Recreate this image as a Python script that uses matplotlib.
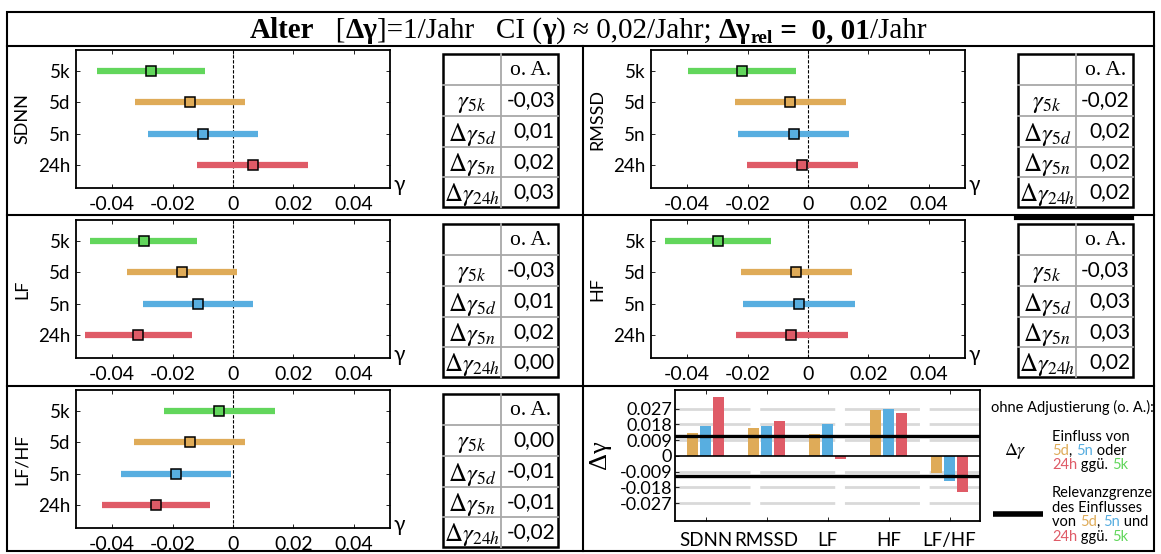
import matplotlib.pyplot as plt
from matplotlib.patches import Rectangle
import numpy as np

plt.rcParams['font.family'] = ['Lato', 'DejaVu Sans']
plt.rcParams['mathtext.fontset'] = 'stix'
SERIF = ['Liberation Serif', 'DejaVu Serif']

W, H = 1161, 554

# --- data: gamma estimates with confidence intervals per recording (5k, 5d, 5n, 24h)
groups = ['5k', '5d', '5n', '24h']
colors = ['#62d65c', '#dfab58', '#58aee0', '#df5b67']
params = ['SDNN', 'RMSSD', 'LF', 'HF', 'LF/HF']

sdnn_mid = [-0.0272, -0.0141, -0.0100, 0.0065]
sdnn_lo = [-0.0450, -0.0323, -0.0282, -0.0118]
sdnn_hi = [-0.0093, 0.0040, 0.0084, 0.0249]

rmssd_mid = [-0.0218, -0.0060, -0.0048, -0.0020]
rmssd_lo = [-0.0399, -0.0243, -0.0233, -0.0202]
rmssd_hi = [-0.0039, 0.0126, 0.0135, 0.0165]

lf_mid = [-0.0296, -0.0170, -0.0115, -0.0313]
lf_lo = [-0.0474, -0.0350, -0.0299, -0.0490]
lf_hi = [-0.0118, 0.0012, 0.0067, -0.0137]

hf_mid = [-0.0299, -0.0039, -0.0029, -0.0055]
hf_lo = [-0.0474, -0.0223, -0.0215, -0.0238]
hf_hi = [-0.0121, 0.0145, 0.0155, 0.0132]

lfhf_mid = [-0.0046, -0.0144, -0.0189, -0.0254]
lfhf_lo = [-0.0230, -0.0327, -0.0372, -0.0434]
lfhf_hi = [0.0138, 0.0039, -0.0007, -0.0076]

rel_limit = 0.0113

row_labels = [r'$\gamma_{5k}$', r'$\Delta\gamma_{5d}$', r'$\Delta\gamma_{5n}$', r'$\Delta\gamma_{24h}$']
bar_ticks = [0.027, 0.018, 0.009, 0, -0.009, -0.018, -0.027]
bar_ticklabels = ['0.027', '0.018', '0.009', '0', '-0.009', '-0.018', '-0.027']

fig = plt.figure(figsize=(W / 100, H / 100), dpi=100)

# background axes in pixel units for frame, tables and free text
bg = fig.add_axes([0, 0, 1, 1])
bg.set_xlim(0, W)
bg.set_ylim(H, 0)
bg.axis('off')
renderer = fig.canvas.get_renderer()


def px_axes(x0, y0, x1, y1):
    return fig.add_axes([x0 / W, 1 - y1 / H, (x1 - x0) / W, (y1 - y0) / H])


def put_pieces(x, y, pieces, center=False, **kw):
    """draw text pieces one after another on a line: (text, dict of extra props, dy)"""
    items = []
    for txt, props, dy in pieces:
        t = bg.text(0, y + dy, txt, va='baseline', ha='left', **{**kw, **props})
        w = t.get_window_extent(renderer).width
        items.append((t, w))
    total = sum(w for _, w in items)
    cx = x - total / 2 if center else x
    for t, w in items:
        t.set_x(cx)
        cx += w


def fmt(v):
    return f"{round(v, 2) + 0.0:.2f}".replace('.', ',')


def forest(x0, y0, name, lo, mid, hi):
    ax = px_axes(x0, y0, x0 + 314, y0 + 138)
    ypos = np.arange(1, 5)
    for i in range(4):
        ax.plot([lo[i], hi[i]], [ypos[i], ypos[i]], color=colors[i], lw=4.5,
                solid_capstyle='butt', zorder=2)
        ax.plot(mid[i], ypos[i], 's', mfc=colors[i], mec='black', ms=7, mew=1.1, zorder=3)
    ax.axvline(0, color='black', lw=0.8, dashes=(3, 1.5), zorder=1)
    ax.set_xlim(-0.052, 0.052)
    ax.set_ylim(4.74, 0.32)
    ax.set_yticks(ypos, groups)
    ax.set_xticks([-0.04, -0.02, 0, 0.02, 0.04], ['-0.04', '-0.02', '0', '0.02', '0.04'])
    ax.tick_params(direction='in', top=True, right=True, length=3, width=0.6,
                   labelsize=13.5, pad=4)
    ax.tick_params(axis='x', labelsize=14, pad=6)
    for s in ax.spines.values():
        s.set_linewidth(1.3)
    ax.text(1.012, 0.02, 'γ', transform=ax.transAxes, ha='left', va='center', fontsize=15)
    bg.text(x0 - 54, y0 + 69, name, rotation=90, ha='center', va='center', fontsize=13)


def table(x0, y0, mid):
    xs = [x0, x0 + 58, x0 + 115]
    ys = [y0, y0 + 31, y0 + 62, y0 + 93, y0 + 123, y0 + 153]
    for y in ys[1:-1]:
        bg.plot([xs[0], xs[2]], [y, y], color='#a8a8a8', lw=1.3)
    bg.plot([xs[1], xs[1]], [ys[0], ys[-1]], color='#a8a8a8', lw=1.3)
    bg.add_patch(Rectangle((xs[0], ys[0]), xs[2] - xs[0], ys[-1] - ys[0],
                           fill=False, ec='black', lw=1.8))
    bg.text((xs[1] + xs[2]) / 2 + 1, (ys[0] + ys[1]) / 2 + 1, 'o. A.', family=SERIF,
            ha='center', va='center', fontsize=15.5)
    vals = [mid[0]] + [m - mid[0] for m in mid[1:]]
    for i, v in enumerate(vals):
        yc = (ys[i + 1] + ys[i + 2]) / 2
        bg.text((xs[0] + xs[1]) / 2, yc + 3, row_labels[i], ha='center', va='center',
                fontsize=18)
        bg.text(xs[2] - 3, yc, fmt(v), ha='right', va='center', fontsize=15)


# frame
bg.add_patch(Rectangle((7, 12), 1147, 539, fill=False, ec='black', lw=1.5))
bg.plot([7, 1154], [46, 46], color='black', lw=1.5)
bg.plot([7, 1154], [215, 215], color='black', lw=1.5)
bg.plot([7, 1154], [385.5, 385.5], color='black', lw=1.5)
bg.plot([583, 583], [46, 551], color='black', lw=1.5)
bg.plot([1016, 1132], [218, 218], color='black', lw=3)

# title
put_pieces(588, 38, [
    ('Alter', {'weight': 'bold'}, 0),
    ('   [', {}, 0),
    ('Δγ', {'weight': 'bold'}, 0),
    (']=1/Jahr   CI (', {}, 0),
    ('γ', {'weight': 'bold'}, 0),
    (') ≈ 0,02/Jahr; ', {}, 0),
    ('Δγ', {'weight': 'bold'}, 0),
    ('rel', {'weight': 'bold', 'fontsize': 14}, 5),
    (' =  0, 01', {'weight': 'bold'}, 0),
    ('/Jahr', {}, 0),
], center=True, family=SERIF, fontsize=21)

# forest plots and tables
panels = [
    ('SDNN', sdnn_lo, sdnn_mid, sdnn_hi, 76, 50),
    ('RMSSD', rmssd_lo, rmssd_mid, rmssd_hi, 651, 50),
    ('LF', lf_lo, lf_mid, lf_hi, 76, 220),
    ('HF', hf_lo, hf_mid, hf_hi, 651, 220),
    ('LF/HF', lfhf_lo, lfhf_mid, lfhf_hi, 76, 390),
]
for name, lo, mid, hi, x0, y0 in panels:
    forest(x0, y0, name, lo, mid, hi)
    table(x0 + 367, y0 + 4, mid)

# bar chart of differences vs 5k
all_mid = [sdnn_mid, rmssd_mid, lf_mid, hf_mid, lfhf_mid]
axb = px_axes(675, 390, 980, 521)
xg = np.arange(len(params))
for j in range(1, 4):
    d = [m[j] - m[0] for m in all_mid]
    axb.bar(xg + (j - 2) * 0.22, d, width=0.18, color=colors[j], zorder=2)
for v in [0.027, 0.018, 0.009, -0.009, -0.018, -0.027]:
    axb.axhline(v, color='#d9d9d9', lw=2, dashes=(27, 3.5), zorder=0)
axb.axhline(0, color='black', lw=1.2, zorder=3)
axb.axhline(rel_limit, color='black', lw=2.4, zorder=3)
axb.axhline(-rel_limit, color='black', lw=2.4, zorder=3)
axb.set_xlim(-0.5, 4.5)
axb.set_ylim(-0.0372, 0.0376)
axb.set_yticks(bar_ticks, bar_ticklabels)
axb.set_xticks(xg, params)
axb.tick_params(direction='in', top=True, length=3, width=0.6, labelsize=13, pad=2)
axb.tick_params(axis='x', labelsize=13.5, pad=8)
for s in axb.spines.values():
    s.set_linewidth(1.3)
bg.text(600, 455, 'Δγ', family=SERIF, rotation=90, ha='center', va='center', fontsize=19)

# legend text
lk = dict(fontsize=10.5)
bg.text(1072, 407, 'ohne Adjustierung (o. A.):', ha='center', va='center', **lk)
bg.text(1015, 451, r'$\Delta\gamma$', ha='center', va='center', fontsize=13)
put_pieces(1052, 441, [('Einfluss von', {}, 0)], **lk)
put_pieces(1052, 455, [('5d', {'color': colors[1]}, 0), (', ', {}, 0),
                       ('5n', {'color': colors[2]}, 0), (' oder', {}, 0)], **lk)
put_pieces(1052, 469, [('24h', {'color': colors[3]}, 0), (' ggü. ', {}, 0),
                       ('5k', {'color': colors[0]}, 0)], **lk)
bg.plot([993, 1043], [514, 514], color='black', lw=4, solid_capstyle='butt')
put_pieces(1052, 497, [('Relevanzgrenze', {}, 0)], **lk)
put_pieces(1052, 512, [('des Einflusses', {}, 0)], **lk)
put_pieces(1052, 526, [('von ', {}, 0), ('5d', {'color': colors[1]}, 0), (', ', {}, 0),
                       ('5n', {'color': colors[2]}, 0), (' und', {}, 0)], **lk)
put_pieces(1052, 541, [('24h', {'color': colors[3]}, 0), (' ggü. ', {}, 0),
                       ('5k', {'color': colors[0]}, 0)], **lk)

fig.savefig('out.png', dpi=100)
